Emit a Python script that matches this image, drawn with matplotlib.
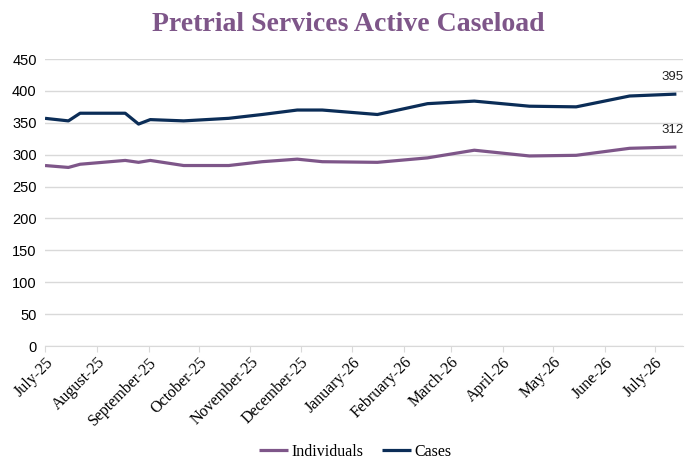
import numpy as np
import pandas as pd
import matplotlib
matplotlib.use("Agg")
import matplotlib.pyplot as plt
import matplotlib.dates as mdates

# data
dates = pd.to_datetime(["2025-07-01", "2025-07-15", "2025-07-22", "2025-08-18", "2025-08-26",
                        "2025-09-02", "2025-09-22", "2025-10-19", "2025-11-08", "2025-11-29",
                        "2025-12-14", "2026-01-16", "2026-02-15", "2026-03-15", "2026-04-17",
                        "2026-05-15", "2026-06-16", "2026-07-14"])
cases = [357, 353, 365, 365, 348, 355, 353, 357, 363, 370,
         370, 363, 380, 384, 376, 375, 392, 395]
individuals = [283, 280, 285, 291, 288, 291, 283, 283, 289, 293,
               289, 288, 295, 307, 298, 299, 310, 312]
yticks = np.arange(0, 451, 50)

purple = "#7E5689"
navy = "#0B2D57"

fig = plt.figure(figsize=(6.97, 4.74), dpi=100)
ax = fig.add_axes([0.0646, 0.27, 0.9154, 0.6055])

ax.plot(dates, individuals, color=purple, lw=2.3, label="Individuals", solid_capstyle="butt")
ax.plot(dates, cases, color=navy, lw=2.3, label="Cases", solid_capstyle="butt")

for s, c in [(cases, navy), (individuals, purple)]:
    ax.annotate(str(s[-1]), (dates[-1], s[-1]), xytext=(-3, 8), textcoords="offset points",
                ha="center", va="bottom", fontsize=9.5, family="Liberation Sans", color="#222222")

ax.set_ylim(0, 450)
ax.set_yticks(yticks)
ax.set_xlim(pd.Timestamp("2025-07-01"), pd.Timestamp("2026-07-18"))
ax.xaxis.set_major_locator(mdates.MonthLocator())
ax.xaxis.set_major_formatter(mdates.DateFormatter("%B-%y"))

ax.grid(axis="y", color="#D9D9D9", lw=1)
ax.set_axisbelow(True)
for sp in ["left", "right", "top"]:
    ax.spines[sp].set_visible(False)
ax.spines["bottom"].set_color("#D9D9D9")
ax.tick_params(axis="y", length=0, labelsize=10.5, pad=6)
ax.tick_params(axis="x", length=4, color="#D9D9D9", pad=2)
for lab in ax.get_yticklabels():
    lab.set_family("Liberation Sans")
for lab in ax.get_xticklabels():
    lab.set_rotation(45)
    lab.set_ha("right")
    lab.set_rotation_mode("anchor")
    lab.set_family("Liberation Serif")
    lab.set_fontsize(11.5)

fig.suptitle("Pretrial Services Active Caseload", x=0.5, y=0.975, fontsize=20,
             fontweight="bold", family="Liberation Serif", color=purple)

fig.legend(loc="lower center", bbox_to_anchor=(0.51, 0.0), ncol=2, frameon=False,
           prop={"family": "Liberation Serif", "size": 11.5}, handlelength=1.8,
           handletextpad=0.2, columnspacing=1.2)

fig.savefig("out.png", dpi=100)
